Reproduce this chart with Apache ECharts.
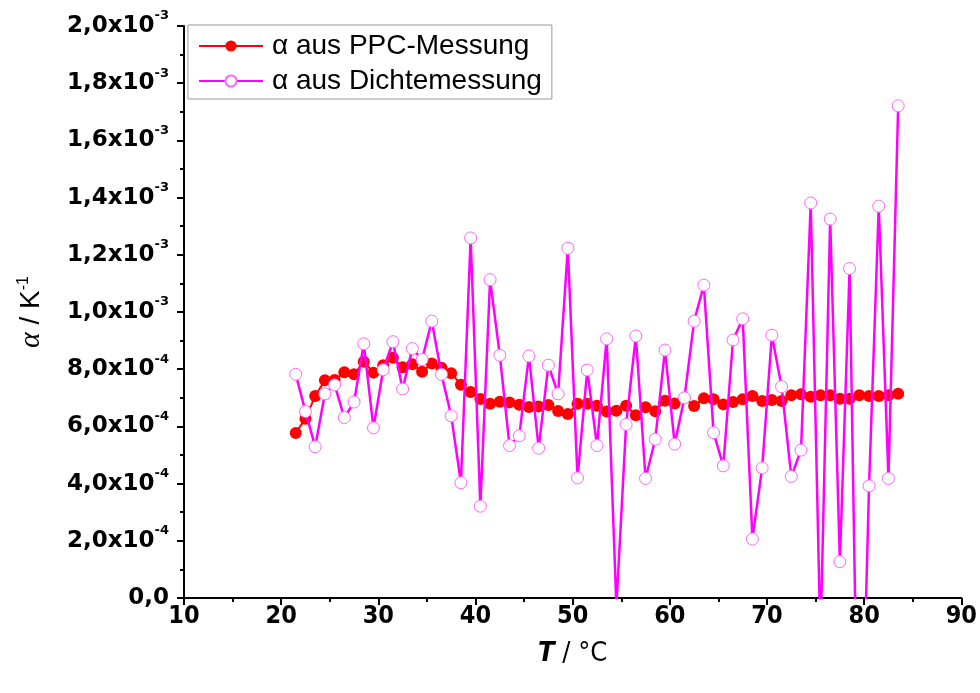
<!DOCTYPE html>
<html>
<head>
<meta charset="utf-8">
<script src="https://cdn.jsdelivr.net/npm/echarts@6/dist/echarts.min.js"></script>
<style>
html,body{margin:0;padding:0;background:#fff;}
#chart{width:980px;height:693px;}
</style>
</head>
<body>
<div id="chart"></div>
<script>
// Temperature T / °C (x positions of both series)
const temperatures = [21.5,22.5,23.5,24.5,25.5,26.5,27.5,28.5,29.5,30.5,31.5,32.5,33.5,34.5,35.5,36.5,37.5,38.5,39.5,40.5,
  41.5,42.5,43.5,44.5,45.5,46.5,47.5,48.5,49.5,50.5,51.5,52.5,53.5,54.5,55.5,56.5,57.5,58.5,59.5,60.5,
  61.5,62.5,63.5,64.5,65.5,66.5,67.5,68.5,69.5,70.5,71.5,72.5,73.5,74.5,75.5,76.5,77.5,78.5,79.5,80.5,
  81.5,82.5,83.5];
// alpha from PPC measurement, in units of 1e-4 K^-1
const alphaPPC = [5.77,6.27,7.06,7.61,7.62,7.89,7.82,8.26,7.88,8.14,8.40,8.07,8.17,7.91,8.20,8.05,7.86,7.46,7.20,6.96,
  6.79,6.86,6.84,6.76,6.68,6.70,6.75,6.54,6.43,6.79,6.79,6.72,6.52,6.55,6.72,6.39,6.67,6.53,6.90,6.80,
  7.00,6.71,6.98,6.95,6.77,6.85,6.95,7.06,6.89,6.92,6.89,7.09,7.12,7.04,7.09,7.09,6.97,6.97,7.09,7.06,
  7.06,7.09,7.14];
// alpha from density measurement, in units of 1e-4 K^-1
const alphaDichte = [7.82,6.52,5.29,7.14,7.45,6.31,6.85,8.89,5.95,7.98,8.96,7.31,8.72,8.34,9.68,7.82,6.37,4.03,12.59,3.21,
  11.13,8.49,5.33,5.67,8.46,5.24,8.14,7.14,12.23,4.20,7.97,5.33,9.06,-0.3,6.07,9.16,4.18,5.55,8.67,5.38,
  7.00,9.68,10.94,5.78,4.62,9.02,9.76,2.06,4.55,9.19,7.39,4.25,5.17,13.81,-1.5,13.25,1.27,11.52,-9.0,3.92,
  13.70,4.18,17.21];
const seriesNames = ['\u03b1 aus PPC-Messung', '\u03b1 aus Dichtemessung'];
const xTicks = [10,20,30,40,50,60,70,80,90];
const yTickMantissa = ['0,0','2,0','4,0','6,0','8,0','1,0','1,2','1,4','1,6','1,8','2,0'];
const yTickExponent = ['', '-4','-4','-4','-4','-3','-3','-3','-3','-3','-3'];

const chart = echarts.init(document.getElementById('chart'), null, {renderer:'canvas'});
const pts = (ys) => temperatures.map((t,i)=>[t, ys[i]]);
const COND = "'DejaVu Sans Condensed', 'Liberation Sans Narrow', 'Arial Narrow', sans-serif";

const option = {
  animation:false,
  backgroundColor:'#fff',
  grid:{left:184, right:18, top:26, bottom:95, containLabel:false},
  legend:{
    orient:'vertical', left:188, top:25,
    padding:[7,10,4,10], itemGap:7,
    itemWidth:64, itemHeight:14,
    borderColor:'#999', borderWidth:1, backgroundColor:'#fff',
    textStyle:{fontFamily:'Liberation Sans, Arial, sans-serif', fontSize:28, color:'#000', padding:[0,0,0,4]},
    data:seriesNames
  },
  xAxis:{
    type:'value', min:xTicks[0], max:xTicks[xTicks.length-1], interval:10,
    name:'{i|T} / \u00b0C', nameLocation:'middle', nameGap:42,
    nameTextStyle:{fontFamily:COND, fontSize:27, color:'#000',
      rich:{i:{fontStyle:'italic', fontWeight:'bold', fontFamily:COND, fontSize:27}}},
    axisLine:{show:true, onZero:false, lineStyle:{color:'#000', width:2}},
    axisTick:{show:true, inside:false, length:7, lineStyle:{color:'#000', width:2}},
    minorTick:{show:true, splitNumber:2, length:4, lineStyle:{color:'#000', width:2}},
    splitLine:{show:false},
    axisLabel:{fontFamily:COND, fontWeight:'bold', fontSize:25, color:'#000', margin:6}
  },
  yAxis:{
    type:'value', min:0, max:20, interval:2,
    name:'{i|\u03b1} / K{s|-1}', nameLocation:'middle', nameGap:138, nameRotate:90,
    nameTextStyle:{fontFamily:'Liberation Sans, Arial, sans-serif', fontSize:28, color:'#000',
      rich:{i:{fontFamily:'Liberation Serif, Times New Roman, serif', fontStyle:'italic', fontSize:30, lineHeight:30},
            s:{fontSize:16, verticalAlign:'top', fontFamily:'Liberation Sans, Arial, sans-serif'}}},
    axisLine:{show:true, onZero:false, lineStyle:{color:'#000', width:2}},
    axisTick:{show:true, inside:false, length:7, lineStyle:{color:'#000', width:2}},
    minorTick:{show:true, splitNumber:2, length:4, lineStyle:{color:'#000', width:2}},
    splitLine:{show:false},
    axisLabel:{
      margin:15,
      formatter:function(v){
        const i = Math.round(v/2);
        if(!yTickExponent[i]) return '{n|'+yTickMantissa[i]+'}';
        return '{n|'+yTickMantissa[i]+'x10}{s|'+yTickExponent[i]+'}';
      },
      rich:{
        n:{fontFamily:'DejaVu Sans, sans-serif', fontWeight:'bold', fontSize:23, lineHeight:33, color:'#000'},
        s:{fontFamily:'DejaVu Sans, sans-serif', fontWeight:'bold', fontSize:13, color:'#000', verticalAlign:'top'}
      }
    }
  },
  series:[
    {
      name:seriesNames[0], type:'line', data:pts(alphaPPC),
      symbol:'circle', symbolSize:12, showSymbol:true,
      lineStyle:{color:'#ff0000', width:2},
      itemStyle:{color:'#ff0000', borderWidth:0},
      z:2
    },
    {
      name:seriesNames[1], type:'line', data:pts(alphaDichte),
      symbol:'circle', symbolSize:12, showSymbol:true,
      lineStyle:{color:'#ff00ff', width:2.5},
      itemStyle:{color:'#ffffff', borderColor:'#ff66ff', borderWidth:1},
      z:3
    }
  ]
};
chart.setOption(option);
</script>
</body>
</html>
